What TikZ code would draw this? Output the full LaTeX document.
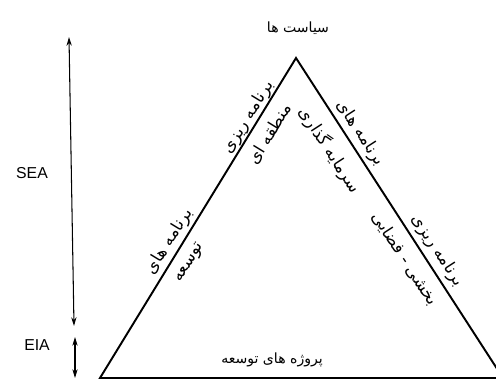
\documentclass[tikz,border=0pt]{standalone}
\usepackage{fontspec}
\usepackage{tikz}
\usetikzlibrary{arrows.meta,positioning}
\TeXXeTstate=1
\newfontfamily\fafont[Script=Arabic]{DejaVu Sans}
\newfontfamily\lafont{Liberation Sans}
\tikzset{
  side/.style={line width=1.1pt},
  span/.style={line width=0.6pt,{Stealth[length=5pt,width=3pt]}-{Stealth[length=5pt,width=3pt]}},
  fa/.style={inner sep=1pt,font=\fafont\fontsize{8}{10}\selectfont},
  slant/.style={inner sep=1pt,font=\fafont\fontsize{9.5}{11}\selectfont},
  la/.style={inner sep=1pt,font=\lafont\fontsize{9}{11}\selectfont},
}
\begin{document}
\begin{tikzpicture}[x=0.02cm,y=-0.02cm]
  \clip (0,0) rectangle (496,381);
  \coordinate (top) at (296,58);
  \coordinate (left) at (100,378);
  \coordinate (right) at (503,378);
  \draw[side] (left) -- (top) -- (right) -- cycle;
  % scale arrows
  \coordinate (seaT) at (69,37);
  \coordinate (seaB) at (74,326);
  \coordinate (eiaT) at (75,337);
  \coordinate (eiaB) at (75,378);
  \draw[span] (seaT) -- (seaB);
  \draw[span] (eiaT) -- (eiaB);
  \node[la] (sea) at (32,173) {SEA};
  \node[la] (eia) at (37,345) {EIA};
  % levels
  \node[fa] (policy) at (298,28) {\beginR سیاست ها\endR};
  \node[fa] (projects) at (272,360) {\beginR پروژه های توسعه\endR};
  \node[slant,rotate=58.5] (regA) at (248.5,117.4) {\beginR برنامه ریزی\endR};
  \node[slant,rotate=58.5] (regB) at (270,134) {\beginR منطقه ای\endR};
  \node[slant,rotate=58.5] (devA) at (169.5,241.4) {\beginR برنامه های\endR};
  \node[slant,rotate=58.5] (devB) at (190,263) {\beginR توسعه\endR};
  \node[slant,rotate=-57] (invA) at (360.5,133.4) {\beginR برنامه های\endR};
  \node[slant,rotate=-57] (invB) at (330,150) {\beginR سرمایه گذاری\endR};
  \node[slant,rotate=-57] (secA) at (437.5,250.4) {\beginR برنامه ریزی\endR};
  \node[slant,rotate=-57] (secB) at (405,259) {\beginR بخشی - فضایی\endR};
\end{tikzpicture}
\end{document}
